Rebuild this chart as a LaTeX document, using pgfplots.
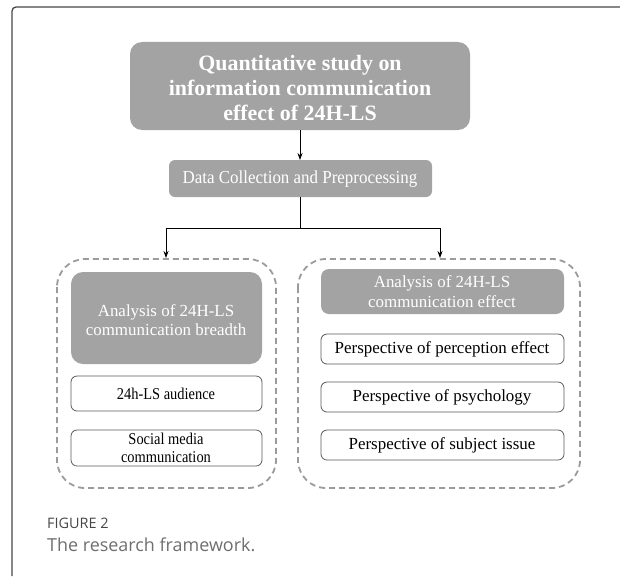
\documentclass[border=0pt]{standalone}
\usepackage{fontspec}
\setmainfont{Liberation Serif}
\newfontfamily\capfont{Open Sans}
\usepackage{graphicx}
\usepackage{pgfplots}
\pgfplotsset{compat=1.18}
\usetikzlibrary{arrows.meta}

\definecolor{boxgray}{RGB}{163,163,163}
\definecolor{dashgray}{RGB}{155,155,155}
\definecolor{framegray}{RGB}{70,70,70}
\definecolor{edgegray}{RGB}{90,90,90}
\definecolor{capgray}{RGB}{110,110,110}

\begin{document}
\begin{tikzpicture}
\begin{axis}[
	width=620bp, height=576bp, scale only axis,
	xmin=0, xmax=620, ymin=0, ymax=576, y dir=reverse,
	hide axis, clip=false
]
	\coordinate (bl) at (axis cs:0,576);
	\coordinate (tr) at (axis cs:620,0);

	% card frame
	\draw[framegray, line width=1.3bp, rounded corners=4bp]
		(axis cs:12,576) -- (axis cs:12,7) -- (axis cs:620,7);

	% top box
	\fill[boxgray, rounded corners=12bp] (axis cs:130,42) rectangle (axis cs:470,130);
	\node[white, inner sep=0, align=center, font=\bfseries\fontsize{22}{25.5}\selectfont]
		at (axis cs:300,88) {Quantitative study on\\information communication\\effect of 24H-LS};

	\draw[-{Stealth[length=7bp,width=5bp]}, line width=0.8bp] (axis cs:300,130) -- (axis cs:300,160);

	% data box
	\fill[boxgray, rounded corners=6bp] (axis cs:169,160) rectangle (axis cs:432,197);
	\node[white, inner sep=0, font=\fontsize{17}{19}\selectfont] at (axis cs:300,179)
		{\scalebox{1}[1.08]{Data Collection and Preprocessing}};

	% connectors
	\draw[line width=0.8bp] (axis cs:300,197) -- (axis cs:300,228);
	\draw[line width=0.8bp] (axis cs:166,228) -- (axis cs:440,228);
	\draw[-{Stealth[length=7bp,width=5bp]}, line width=0.8bp] (axis cs:166,228) -- (axis cs:166,258);
	\draw[-{Stealth[length=7bp,width=5bp]}, line width=0.8bp] (axis cs:440,228) -- (axis cs:440,258);

	% dashed groups
	\draw[dashgray, line width=1.8bp, dash pattern=on 6bp off 4bp, rounded corners=28bp]
		(axis cs:57,259) rectangle (axis cs:276,488);
	\draw[dashgray, line width=1.8bp, dash pattern=on 6bp off 4bp, rounded corners=28bp]
		(axis cs:298,259) rectangle (axis cs:580,488);

	% left group
	\fill[boxgray, rounded corners=12bp] (axis cs:71,272) rectangle (axis cs:262,364);
	\node[white, inner sep=0, align=center, font=\fontsize{17}{19.5}\selectfont]
		at (axis cs:166,320) {Analysis of 24H-LS\\communication breadth};
	\draw[edgegray, fill=white, line width=0.8bp, rounded corners=6bp] (axis cs:71,376) rectangle (axis cs:262,411);
	\node[inner sep=0, font=\fontsize{14.5}{17}\selectfont] at (axis cs:166,393.5)
		{\scalebox{1}[1.14]{24h-LS audience}};
	\draw[edgegray, fill=white, line width=0.8bp, rounded corners=6bp] (axis cs:71,430) rectangle (axis cs:262,466);
	\node[inner sep=0, align=center, font=\fontsize{14.5}{18}\selectfont]
		at (axis cs:166,448) {\scalebox{1}[1.14]{Social media}\\\scalebox{1}[1.14]{communication}};

	% right group
	\fill[boxgray, rounded corners=8bp] (axis cs:321,269) rectangle (axis cs:564,314);
	\node[white, inner sep=0, align=center, font=\fontsize{17}{20}\selectfont]
		at (axis cs:442,292) {Analysis of 24H-LS\\communication effect};
	\draw[edgegray, fill=white, line width=0.8bp, rounded corners=6bp] (axis cs:321,334) rectangle (axis cs:564,364);
	\node[inner sep=0, font=\fontsize{17}{19}\selectfont] at (axis cs:442,349) {Perspective of perception effect};
	\draw[edgegray, fill=white, line width=0.8bp, rounded corners=6bp] (axis cs:321,382) rectangle (axis cs:564,412);
	\node[inner sep=0, font=\fontsize{17}{19}\selectfont] at (axis cs:442,397) {Perspective of psychology};
	\draw[edgegray, fill=white, line width=0.8bp, rounded corners=6bp] (axis cs:321,430) rectangle (axis cs:564,460);
	\node[inner sep=0, font=\fontsize{17}{19}\selectfont] at (axis cs:442,445) {Perspective of subject issue};

	% caption
	\node[anchor=west, inner sep=0, text=framegray, font=\capfont\fontsize{14.5}{16}\selectfont]
		at (axis cs:47,523) {FIGURE 2};
	\node[anchor=west, inner sep=0, text=capgray, font=\capfont\fontsize{18}{20}\selectfont]
		at (axis cs:47,545) {The research framework.};
\end{axis}
\pgfresetboundingbox
\path (bl) rectangle (tr);
\end{tikzpicture}
\end{document}
